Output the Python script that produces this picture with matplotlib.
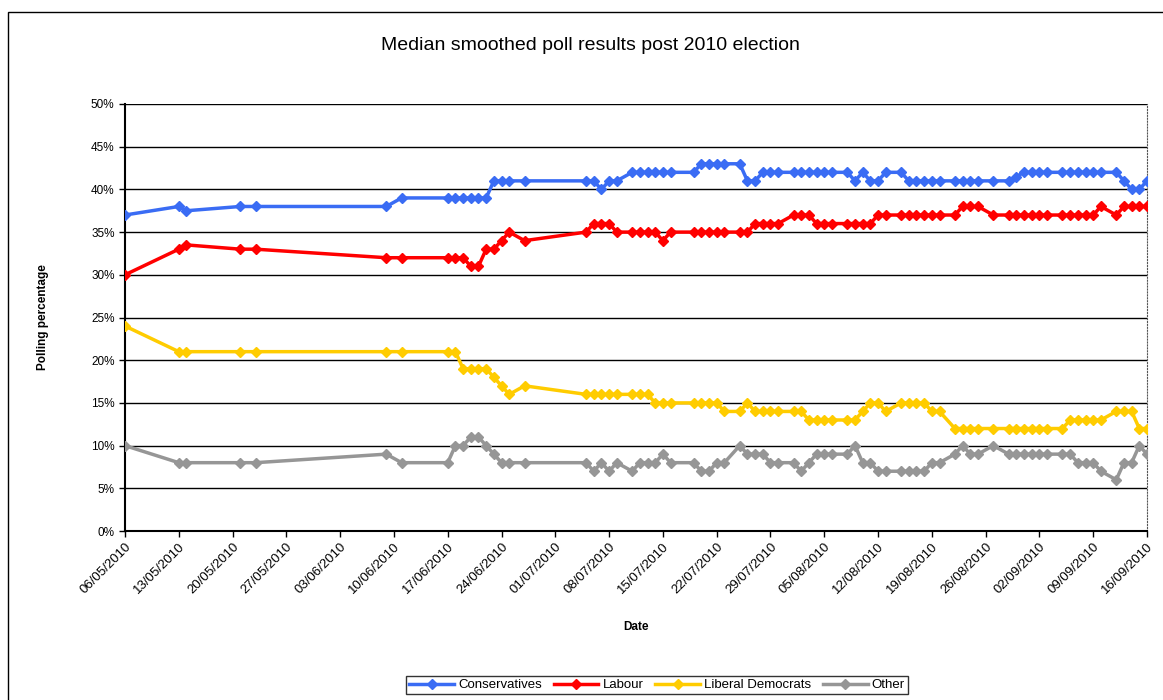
import datetime as dt
import matplotlib
matplotlib.use("Agg")
from matplotlib import pyplot as plt
import matplotlib.dates as mdates
from matplotlib.patches import Rectangle
from matplotlib.ticker import FuncFormatter

plt.rcParams['font.family'] = ['Liberation Sans', 'DejaVu Sans']

# days after 06/05/2010 on which a smoothed value is plotted
days = [0, 7, 8, 15, 17, 34, 36, 42, 43, 44, 45, 46, 47, 48, 49, 50, 52, 60, 61, 62, 63, 64,
        66, 67, 68, 69, 70, 71, 74, 75, 76, 77, 78, 80, 81, 82, 83, 84, 85,
        87, 88, 89, 90, 91, 92, 94, 95, 96, 97, 98, 99, 101, 102, 103, 104, 105, 106,
        108, 109, 110, 111, 113, 115, 116, 117, 118, 119, 120, 122, 123, 124, 125, 126, 127,
        129, 130, 131, 132, 133]

conservatives = [37, 38, 37.5, 38, 38, 38, 39, 39, 39, 39, 39, 39, 39, 41, 41, 41, 41, 41, 41, 40, 41, 41,
                 42, 42, 42, 42, 42, 42, 42, 43, 43, 43, 43, 43, 41, 41, 42, 42, 42,
                 42, 42, 42, 42, 42, 42, 42, 41, 42, 41, 41, 42, 42, 41, 41, 41, 41, 41,
                 41, 41, 41, 41, 41, 41, 41.5, 42, 42, 42, 42, 42, 42, 42, 42, 42, 42,
                 42, 41, 40, 40, 41]

labour = [30, 33, 33.5, 33, 33, 32, 32, 32, 32, 32, 31, 31, 33, 33, 34, 35, 34, 35, 36, 36, 36, 35,
          35, 35, 35, 35, 34, 35, 35, 35, 35, 35, 35, 35, 35, 36, 36, 36, 36,
          37, 37, 37, 36, 36, 36, 36, 36, 36, 36, 37, 37, 37, 37, 37, 37, 37, 37,
          37, 38, 38, 38, 37, 37, 37, 37, 37, 37, 37, 37, 37, 37, 37, 37, 38,
          37, 38, 38, 38, 38]

libdems = [24, 21, 21, 21, 21, 21, 21, 21, 21, 19, 19, 19, 19, 18, 17, 16, 17, 16, 16, 16, 16, 16,
           16, 16, 16, 15, 15, 15, 15, 15, 15, 15, 14, 14, 15, 14, 14, 14, 14,
           14, 14, 13, 13, 13, 13, 13, 13, 14, 15, 15, 14, 15, 15, 15, 15, 14, 14,
           12, 12, 12, 12, 12, 12, 12, 12, 12, 12, 12, 12, 13, 13, 13, 13, 13,
           14, 14, 14, 12, 12]

other = [10, 8, 8, 8, 8, 9, 8, 8, 10, 10, 11, 11, 10, 9, 8, 8, 8, 8, 7, 8, 7, 8,
         7, 8, 8, 8, 9, 8, 8, 7, 7, 8, 8, 10, 9, 9, 9, 8, 8,
         8, 7, 8, 9, 9, 9, 9, 10, 8, 8, 7, 7, 7, 7, 7, 7, 8, 8,
         9, 10, 9, 9, 10, 9, 9, 9, 9, 9, 9, 9, 9, 8, 8, 8, 7,
         6, 8, 8, 10, 9]

start = dt.date(2010, 5, 6)
dates = [start + dt.timedelta(days=d) for d in days]

fig = plt.figure(figsize=(11.63, 7.0), dpi=100)
ax = fig.add_axes([125 / 1163, 1 - 531 / 700, (1147 - 125) / 1163, (531 - 104) / 700])

series = [(conservatives, '#3A6CF4', 'Conservatives'),
          (labour, '#FF0000', 'Labour'),
          (libdems, '#FFCC00', 'Liberal Democrats'),
          (other, '#969696', 'Other')]
for vals, col, name in series:
    ax.plot(dates, [v / 100 for v in vals], color=col, lw=2.5, marker='D', ms=5.5,
            mec=col, label=name, zorder=3)

ax.set_ylim(0, 0.5)
ax.set_yticks([i * 0.05 for i in range(11)])
ax.yaxis.set_major_formatter(FuncFormatter(lambda v, p: f"{v * 100:.0f}%"))
ax.grid(axis='y', color='black', lw=1)
ax.set_axisbelow(True)

ax.set_xlim(start, start + dt.timedelta(days=133.5))
ax.set_xticks([start + dt.timedelta(days=7 * i) for i in range(20)])
ax.xaxis.set_major_formatter(mdates.DateFormatter('%d/%m/%Y'))
plt.setp(ax.get_xticklabels(), rotation=45, ha='right', rotation_mode='anchor')
ax.tick_params(length=4, width=1, colors='black', direction='out')
ax.tick_params(axis='x', labelsize=9.5, pad=3)
ax.tick_params(axis='y', labelsize=8.5)

ax.spines['top'].set_visible(False)
ax.spines['right'].set_linestyle(':')
ax.spines['right'].set_color('#555555')
ax.spines['left'].set_linewidth(1.5)
ax.spines['bottom'].set_linewidth(1.5)

ax.set_xlabel('Date', fontsize=8.5, fontweight='bold', labelpad=18)
ax.set_ylabel('Polling percentage', fontsize=8.5, fontweight='bold', labelpad=30)
fig.text(590 / 1163, 1 - 46 / 700, 'Median smoothed poll results post 2010 election',
         ha='center', va='center', fontsize=14)

leg = ax.legend(loc='center', bbox_to_anchor=(657 / 1163, 1 - 685 / 700),
                bbox_transform=fig.transFigure, ncol=4, fontsize=9.5, frameon=True,
                fancybox=False, edgecolor='black', handlelength=3.4, columnspacing=0.9,
                handletextpad=0.3, borderpad=0.25, markerscale=0.9)
leg.get_frame().set_linewidth(1)

fig.patches.append(Rectangle((8 / 1163, -0.1), 1.2, 1 - 12 / 700 + 0.1, transform=fig.transFigure,
                             fill=False, edgecolor='black', lw=1))

fig.savefig('out.png', dpi=100)
